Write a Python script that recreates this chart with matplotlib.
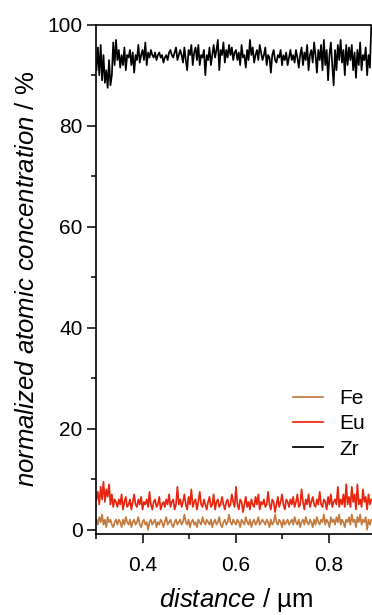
import numpy as np
import matplotlib
matplotlib.use('Agg')
import matplotlib.pyplot as plt
from matplotlib.ticker import MultipleLocator

plt.rcParams['font.family'] = ['Liberation Sans', 'DejaVu Sans']
plt.rcParams['mathtext.fontset'] = 'custom'
plt.rcParams['mathtext.rm'] = 'Liberation Sans'
plt.rcParams['mathtext.it'] = 'Liberation Sans:italic'

# line scan concentrations (at.%), sampled every 3 nm from 0.300 µm
zr = [91, 95.5, 90, 96, 89, 94, 88.5, 91, 87.5, 93, 88, 90, 96.5, 92, 97,
      93, 95, 91.5, 94, 92, 95.5, 91, 94, 93.5, 95, 92, 94.5, 90.5, 94, 93, 96, 92.5, 94, 95, 93, 96.5, 92, 94.5, 93.5, 95,
      94, 93.5, 94.5, 93, 94, 94.5, 93.5, 94, 92.5, 93.5, 94, 93, 94.5, 95, 94, 93.5, 94.5, 95.5, 93, 94,
      95, 94, 92.5, 95.5, 93, 91, 95, 94, 96, 92, 94.5, 95.5, 93, 96, 92, 94, 93.5, 95, 90, 94,
      93, 95.5, 92, 94, 96, 93.5, 95, 97, 91, 95, 94, 96.5, 92.5, 95, 93.5, 96, 94, 95.5, 93, 94.5,
      95, 93, 94.5, 92, 96, 93.5, 94, 91.5, 95, 93, 97, 94, 95.5, 92.5, 94, 95, 93, 96, 94.5, 93,
      94, 95.5, 92, 94, 93.5, 90.5, 94, 95, 93, 92.5, 94, 93.5, 95, 92, 94, 93, 94.5, 92, 93.5, 95,
      93, 94, 92.5, 95, 93.5, 91.5, 94, 95.5, 92, 94.5, 93, 96, 91, 94, 95, 92.5, 96.5, 94, 90.5, 95,
      93, 96, 91, 97, 92, 95, 89, 94, 96.5, 92, 88, 95, 91, 96, 93, 97, 92.5, 95, 90, 96,
      92, 95.5, 93, 96, 91, 94.5, 89.5, 95, 92, 96.5, 91, 94, 93, 95.5, 90, 94, 91.5, 100]

eu = [6, 7.5, 5, 8.5, 6, 9.5, 5.5, 8, 6.5, 9, 5, 7, 4.5, 6, 5.5,
      4.5, 6, 5, 7, 4, 5.5, 6.5, 4.5, 5, 6, 4, 5.5, 7, 5, 4.5, 6, 5, 6.5, 4, 5.5, 5, 6, 4.5, 7.5, 5,
      4, 5.5, 6, 4.5, 5, 6.5, 4, 5, 5.5, 4.5, 6, 5, 7, 4.5, 5.5, 6, 4, 5, 8.5, 5,
      6, 4.5, 5.5, 7, 5, 4, 6.5, 5, 8, 4.5, 5.5, 6, 4, 5.5, 7.5, 5, 4.5, 6, 5, 4,
      5.5, 6.5, 4.5, 5, 7, 4, 5.5, 6, 4.5, 5, 6.5, 5, 4, 5.5, 6, 4.5, 5, 7, 5.5, 4.5,
      8.5, 5, 4, 6, 5.5, 3.5, 5, 6.5, 4.5, 5.5, 4, 6, 5, 4.5, 6.5, 5, 7, 4, 5.5, 5,
      6, 4.5, 5, 7.5, 5, 4, 6, 5.5, 3.5, 5, 6.5, 4.5, 5.5, 7, 5, 4, 6, 5.5, 4.5, 6,
      5, 6.5, 4.5, 5.5, 7, 4.5, 5, 8, 5.5, 4, 6, 5, 7, 4.5, 5.5, 6.5, 5, 4.5, 6, 5,
      7.5, 5, 4.5, 6, 5.5, 4, 6.5, 5, 7, 4.5, 5.5, 6, 5, 8.5, 4.5, 6, 5, 7, 4.5, 9,
      5, 6.5, 4.5, 8.5, 5.5, 7, 4, 9, 5, 6, 4.5, 8, 5.5, 6.5, 4, 7, 5, 6]

fe = [2, 1, 2.5, 1.5, 3, 1, 2, 0.5, 2.5, 1.5, 2, 1, 0.5, 1.5, 2,
      1, 2, 1.5, 0.5, 2, 1, 2.5, 1.5, 1, 2, 0.5, 1.5, 2, 1, 1.5, 2.5, 1, 0.5, 1.5, 2, 1, 1.5, 0, 1.5, 2,
      1, 1.5, 2, 0.5, 1.5, 1, 2, 1.5, 0.5, 1.5, 2.5, 1, 1.5, 2, 1, 0.5, 1.5, 2, 1, 1.5,
      2, 1, 1.5, 3, 1.5, 1, 2, 0.5, 1.5, 2, 1, 1.5, 0.5, 2, 1.5, 1, 2.5, 1.5, 1, 2,
      1.5, 1, 2, 0.5, 1.5, 2, 1, 1.5, 2.5, 1, 0.5, 1.5, 2, 1, 1.5, 3, 1.5, 1, 2, 1.5,
      1, 2, 1.5, 0.5, 2, 1.5, 1, 2.5, 1.5, 1, 2, 0.5, 1.5, 2, 1, 1.5, 2.5, 1, 1.5, 2,
      1.5, 1, 2, 1.5, 0.5, 2, 1, 1.5, 3, 1.5, 1, 2, 1.5, 0.5, 2, 1, 1.5, 2, 1, 1.5,
      2, 1, 2.5, 1.5, 1, 2, 0.5, 1.5, 2, 1, 2.5, 1.5, 1, 2, 1.5, 0.5, 2, 1, 2.5, 1.5,
      1, 2, 1.5, 3, 1, 2, 1.5, 0.5, 2.5, 1.5, 2, 1, 2.5, 1.5, 3, 1, 2, 1.5, 0.5, 2,
      1.5, 2.5, 1, 3, 1.5, 2, 0.5, 2.5, 1.5, 3, 1, 2, 1.5, 2.5, 0, 2, 1, 2]

x_start, x_step = 0.300, 0.003

fig = plt.figure(figsize=(3.72, 6.15), dpi=100)
ax = fig.add_axes([0.2594, 0.1317, 0.75, 0.8281])

for name, vals, col in [('Fe', fe, '#c47a3e'), ('Eu', eu, '#e8250f'), ('Zr', zr, 'black')]:
    d = x_start + x_step * np.arange(len(vals))
    ax.plot(d, vals, color=col, lw=1.25, label=name)

ax.set_xlim(0.3, 0.9)
ax.set_ylim(-0.85, 100)
ax.xaxis.set_major_locator(MultipleLocator(0.2))
ax.xaxis.set_minor_locator(MultipleLocator(0.1))
ax.yaxis.set_major_locator(MultipleLocator(20))
ax.yaxis.set_minor_locator(MultipleLocator(10))
ax.tick_params(which='major', direction='out', length=6.5, width=1.1, labelsize=15)
ax.tick_params(axis='x', which='major', pad=9)
ax.tick_params(which='minor', direction='out', length=3.5, width=1.1)
for s in ax.spines.values():
    s.set_linewidth(1.2)

ax.set_xlabel(r'$\mathit{distance}$ / µm', fontsize=18.5, labelpad=8)
ax.set_ylabel(r'$\mathit{normalized\ atomic\ concentration}$ / %', fontsize=18.5, labelpad=6)

ax.legend(loc='center left', bbox_to_anchor=(0.788, 0.3106), bbox_transform=fig.transFigure,
          frameon=False, fontsize=15, borderpad=0, borderaxespad=0, handlelength=1.43,
          handletextpad=0.8, labelspacing=0.3)

fig.savefig('out.png', dpi=100)
